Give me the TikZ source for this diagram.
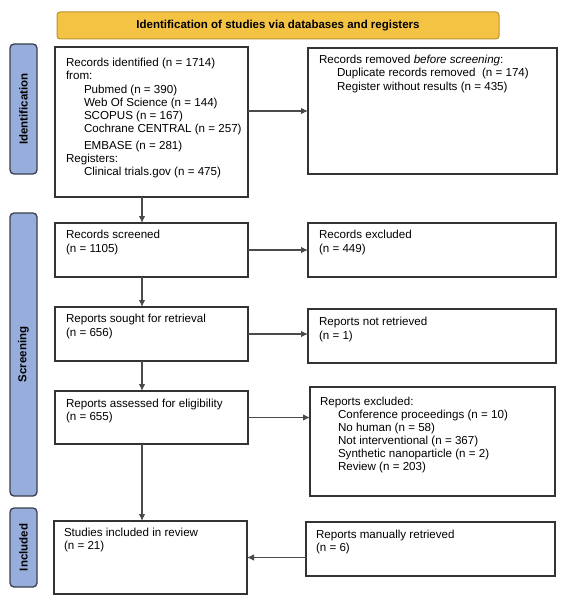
\documentclass[tikz,border=0pt]{standalone}
\usepackage{fontspec}
\setmainfont{Liberation Sans}
\usetikzlibrary{calc,arrows.meta}
\definecolor{titlefill}{HTML}{F5C344}
\definecolor{titledraw}{HTML}{B8922E}
\definecolor{sidefill}{HTML}{97AEDC}
\definecolor{sidedraw}{HTML}{3A3F4C}
\definecolor{boxdraw}{HTML}{333333}
\definecolor{arrdraw}{HTML}{4A4A4A}
\tikzset{
  every node/.style={inner sep=0pt, outer sep=0pt},
  titlebar/.style={draw=titledraw, fill=titlefill, line width=1pt, rounded corners=3pt},
  sidebar/.style={draw=sidedraw, fill=sidefill, line width=1.3pt, rounded corners=4pt},
  sidetext/.style={rotate=90, font=\fontsize{11.5}{13.3}\selectfont\bfseries},
  flowbox/.style={draw=boxdraw, line width=1.5pt, fill=white},
  txt/.style={anchor=north west, align=left, font=\fontsize{11.6}{13.3}\selectfont},
  arr/.style={draw=arrdraw, line width=1.1pt, -{Latex[length=7pt,width=6.5pt]}},
}
\newcommand{\ind}{\hspace*{18pt}}
\newcommand{\boxat}[5]{\node[flowbox, anchor=north west, minimum width={#4-#2}, minimum height={#5-#3}] (#1) at (#2,#3) {};}
\begin{document}
\begin{tikzpicture}[x=1pt,y=-1pt]
\useasboundingbox (0,0) rectangle (566,599);
% title bar
\node[titlebar, anchor=north west, minimum width=442, minimum height=27] (title) at (57,12) {};
\node[font=\fontsize{11.5}{13.3}\selectfont\bfseries] (titletext) at (title.center) {Identification of studies via databases and registers};
% side bars
\node[sidebar, anchor=north west, minimum width=27, minimum height=130] (sid) at (10,44) {};
\node[sidetext] (sidt) at (sid.center) {Identification};
\node[sidebar, anchor=north west, minimum width=27, minimum height=283] (ssc) at (10,213) {};
\node[sidetext] (ssct) at (ssc.center) {Screening};
\node[sidebar, anchor=north west, minimum width=27, minimum height=79] (sin) at (10,508) {};
\node[sidetext] (sint) at (sin.center) {Included};
% boxes
\boxat{b1}{55}{47}{248}{197}
\boxat{r1}{308}{48}{557}{174}
\boxat{b2}{55}{223}{248}{277}
\boxat{r2}{308}{223}{556}{277}
\boxat{b3}{55}{307}{248}{361}
\boxat{r3}{308}{309}{556}{363}
\boxat{b4}{55}{391}{248}{444}
\boxat{r4}{310}{387}{555}{496}
\boxat{b5}{54}{521}{247}{594}
\boxat{r5}{306}{522}{555}{576}
% texts
\node[txt] (t1) at (66,58) {Records identified (n = 1714)\\from:\\
\ind Pubmed (n = 390)\\\ind Web Of Science (n = 144)\\\ind SCOPUS (n = 167)\\
\ind Cochrane CENTRAL\ (n = 257)\\[3pt]\ind EMBASE (n = 281)\\Registers:\\\ind Clinical trials.gov (n = 475)};
\node[txt] (tr1) at (319,55) {Records removed \emph{before screening}:\\
\ind Duplicate records removed\ \ (n = 174)\\\ind Register without results (n = 435)};
\node[txt, font=\fontsize{11.6}{14.5}\selectfont] (t2) at (66,230) {Records screened\\(n = 1105)};
\node[txt, font=\fontsize{11.6}{14.5}\selectfont] (tr2) at (319,230) {Records excluded\\(n = 449)};
\node[txt, font=\fontsize{11.6}{14.5}\selectfont] (t3) at (66,314) {Reports sought for retrieval\\(n = 656)};
\node[txt, font=\fontsize{11.6}{14.5}\selectfont] (tr3) at (319,317) {Reports not retrieved\\(n = 1)};
\node[txt] (t4) at (66,399) {Reports assessed for eligibility\\(n = 655)};
\node[txt, font=\fontsize{11.6}{13}\selectfont] (tr4) at (320,397) {Reports excluded:\\
\ind Conference proceedings (n = 10)\\\ind No human (n = 58)\\\ind Not interventional (n = 367)\\
\ind Synthetic nanoparticle (n = 2)\\\ind Review (n = 203)};
\node[txt] (t5) at (64,528) {Studies included in review\\(n = 21)};
\node[txt] (tr5) at (316,530) {Reports manually retrieved\\(n = 6)};
% connectors
\coordinate (col) at (142,0);
\draw[arr] (b1.east |- r1.west) -- (r1.west);
\draw[arr] (b1.south -| col) -- (b2.north -| col);
\draw[arr] (b2.east) -- (r2.west |- b2.east);
\draw[arr] (b2.south -| col) -- (b3.north -| col);
\draw[arr] (b3.east) -- (r3.west |- b3.east);
\draw[arr] (b3.south -| col) -- (b4.north -| col);
\draw[arr] (b4.east) -- (r4.west |- b4.east);
\draw[arr] (b4.south -| col) -- (b5.north -| col);
\draw[arr] (r5.west |- b5.east) -- (b5.east);
\end{tikzpicture}
\end{document}
